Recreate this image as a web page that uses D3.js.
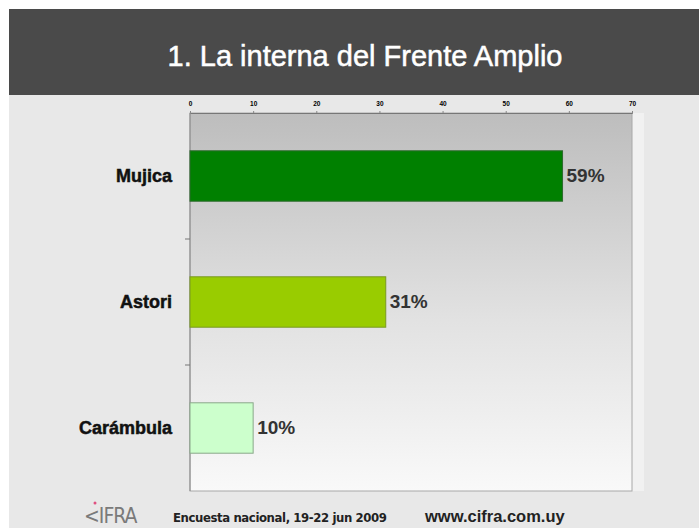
<!DOCTYPE html>
<html>
<head>
<meta charset="utf-8">
<script src="https://cdn.jsdelivr.net/npm/d3@7"></script>
<style>
  body { margin: 0; background: #fff; }
  svg { display: block; font-family: Arial, "Liberation Sans", sans-serif; }
</style>
</head>
<body>
<div id="chart"></div>
<script>

    // data
    const candidates = ["Mujica", "Astori", "Carámbula"];
    const shares = [59, 31, 10];
    const barColors = ["#008000", "#99cc00", "#ccffcc"];
    const barStrokes = ["#2d6a2d", "#7a9a20", "#8aa88a"];
    const xTicks = [0, 10, 20, 30, 40, 50, 60, 70];

    const W = 699, H = 528;
    const plot = { left: 190, right: 632, top: 113, bottom: 491 };

    const svg = d3.select("#chart").append("svg")
        .attr("width", W).attr("height", H);

    const defs = svg.append("defs");
    const grad = defs.append("linearGradient").attr("id", "plotbg")
        .attr("x1", 0).attr("y1", 0).attr("x2", 0).attr("y2", 1);
    grad.append("stop").attr("offset", "0%").attr("stop-color", "#bdbdbd");
    grad.append("stop").attr("offset", "55%").attr("stop-color", "#e2e2e2");
    grad.append("stop").attr("offset", "100%").attr("stop-color", "#f9f9f9");

    // slide background + header band
    svg.append("rect").attr("x", 9).attr("y", 9).attr("width", W - 9).attr("height", H - 9)
        .attr("fill", "#e8e8e8");
    svg.append("rect").attr("x", 9).attr("y", 9).attr("width", W - 9).attr("height", 86)
        .attr("fill", "#4a4a4a");
    svg.append("text").attr("x", 365).attr("y", 66)
        .attr("text-anchor", "middle").attr("fill", "#ffffff")
        .attr("font-size", 29).attr("font-weight", "normal")
        .attr("stroke", "#ffffff").attr("stroke-width", 0.5)
        .text("1. La interna del Frente Amplio");

    const x = d3.scaleLinear().domain([0, 70]).range([plot.left, plot.right]);
    const y = d3.scaleBand().domain(candidates).range([plot.top, plot.bottom])
        .paddingInner(0.6).paddingOuter(0.3);

    // plot area
    svg.append("rect").attr("x", plot.right).attr("y", plot.top)
        .attr("width", 12).attr("height", plot.bottom - plot.top).attr("fill", "#f1f1f1");
    svg.append("rect").attr("x", plot.left).attr("y", plot.top)
        .attr("width", plot.right - plot.left).attr("height", plot.bottom - plot.top)
        .attr("fill", "url(#plotbg)").attr("stroke", "#a8a8a8").attr("stroke-width", 1);

    // top axis
    const xAxis = svg.append("g").attr("transform", "translate(0," + plot.top + ")")
        .call(d3.axisTop(x).tickValues(xTicks).tickSize(2).tickPadding(5));
    xAxis.select(".domain").attr("stroke", "#777");
    xAxis.selectAll(".tick line").attr("stroke", "#888");
    xAxis.selectAll("text").attr("font-size", 6.5).attr("font-weight", "bold").attr("fill", "#000");

    // left axis with ticks between categories
    svg.append("line").attr("x1", plot.left).attr("x2", plot.left)
        .attr("y1", plot.top).attr("y2", plot.bottom).attr("stroke", "#8a8a8a");
    const step = y.step();
    const seps = candidates.slice(1).map(function (c) { return y(c) - step * y.paddingInner() / 2; });
    svg.selectAll(".sep").data(seps).enter().append("line").attr("class", "sep")
        .attr("x1", plot.left - 5).attr("x2", plot.left)
        .attr("y1", function (d) { return d; }).attr("y2", function (d) { return d; })
        .attr("stroke", "#777");

    // bars
    svg.selectAll(".bar").data(candidates).enter().append("rect").attr("class", "bar")
        .attr("x", x(0)).attr("y", function (d) { return y(d); })
        .attr("width", function (d, i) { return x(shares[i]) - x(0); })
        .attr("height", y.bandwidth())
        .attr("fill", function (d, i) { return barColors[i]; })
        .attr("stroke", function (d, i) { return barStrokes[i]; });

    svg.selectAll(".val").data(candidates).enter().append("text").attr("class", "val")
        .attr("x", function (d, i) { return x(shares[i]) + 4; })
        .attr("y", function (d) { return y(d) + y.bandwidth() / 2 + 6; })
        .attr("font-size", 19).attr("font-weight", "bold").attr("fill", "#333")
        .text(function (d, i) { return shares[i] + "%"; });

    svg.selectAll(".cat").data(candidates).enter().append("text").attr("class", "cat")
        .attr("x", 172).attr("y", function (d) { return y(d) + y.bandwidth() / 2 + 6; })
        .attr("text-anchor", "end").attr("font-size", 18).attr("font-weight", "bold")
        .attr("stroke", "#111").attr("stroke-width", 0.5)
        .attr("fill", "#111").text(function (d) { return d; });

    // footer
    svg.append("text").attr("x", 84).attr("y", 523)
        .attr("font-size", 21).attr("fill", "#7a7a7a").attr("letter-spacing", -1)
        .attr("font-family", "'DejaVu Sans Condensed', sans-serif").text("<IFRA");
    svg.append("circle").attr("cx", 95).attr("cy", 503).attr("r", 1.5).attr("fill", "#e05080");
    svg.append("text").attr("x", 173).attr("y", 522)
        .attr("font-size", 13).attr("font-weight", "bold").attr("fill", "#222")
        .attr("font-family", "'DejaVu Sans Condensed', sans-serif").attr("letter-spacing", -0.4)
        .text("Encuesta nacional, 19-22 jun 2009");
    svg.append("text").attr("x", 425).attr("y", 522)
        .attr("font-size", 16.5).attr("font-weight", "bold").attr("fill", "#222")
        .text("www.cifra.com.uy");

</script>
</body>
</html>
